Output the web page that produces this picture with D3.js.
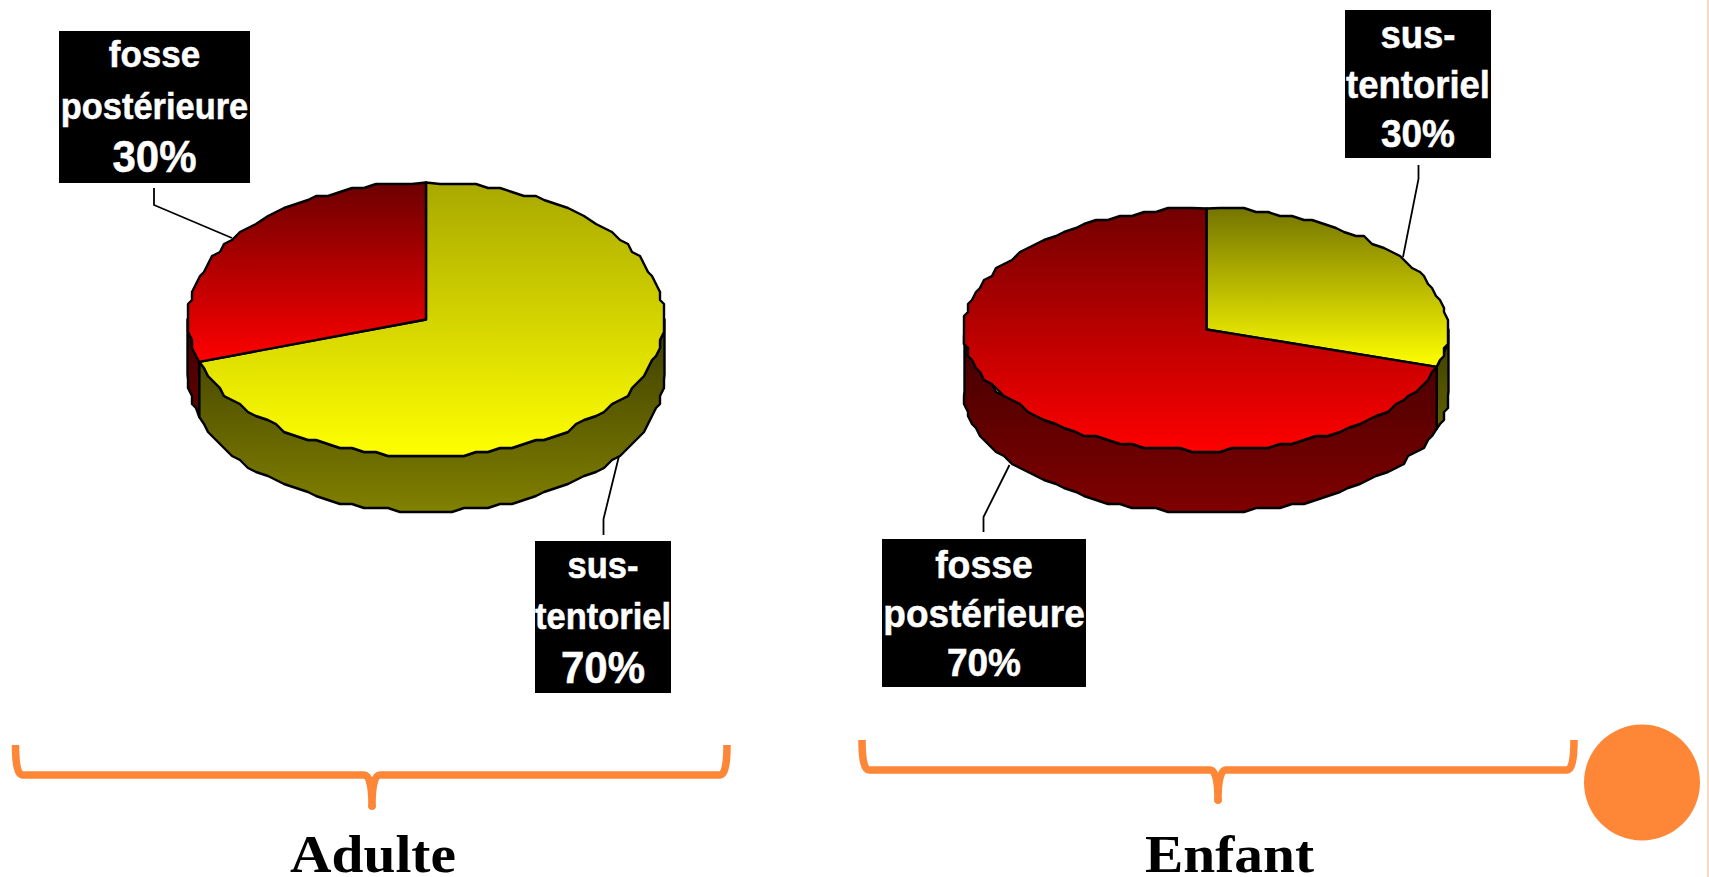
<!DOCTYPE html>
<html lang="fr">
<head>
<meta charset="utf-8">
<title>Localisation des tumeurs : adulte et enfant</title>
<script src="https://cdnjs.cloudflare.com/ajax/libs/d3/7.8.5/d3.min.js"></script>
<style>
  html, body { margin: 0; padding: 0; background: #fff; overflow: hidden; }
  svg { display: block; }
</style>
</head>
<body>
<svg id="chart" width="1709" height="877"></svg>
<script>
// Category names, one word fragment per label line
const categories = ["sus-tentoriel", "fosse postérieure"];
const categoryLines = [["sus-", "tentoriel"], ["fosse", "postérieure"]];

// Share of each category, in percent
const adultValues = [70, 30];
const childValues = [30, 70];

// Group titles under the braces
const groupTitles = ["Adulte", "Enfant"];

// Drawing settings for each group, kept apart from the values
const layouts = [
  {
    values: adultValues, title: groupTitles[0],
    cx: 426, cy: 319.5, rx: 238.5, ry: 137, depth: 55,
    topStart: ["#a8a800", "#6c0000"],
    labels: [
      { box: [535, 541, 136, 152], base: [578, 629, 683], size: [34.5, 34.5, 42],
        leader: [[619, 456], [603.5, 519], [603.5, 535]] },
      { box: [59, 31, 191, 152], base: [67, 119, 172], size: [35, 34.4, 42],
        leader: [[154, 188], [154, 205], [232, 238]] }
    ],
    brace: { x0: 15.5, x1: 727, top: 745, mid: 775, tipX: 372, tip: 806 },
    titleBox: { x: 290, w: 166 }
  },
  {
    values: childValues, title: groupTitles[1],
    cx: 1206.5, cy: 329.5, rx: 242, ry: 121, depth: 62,
    topStart: ["#747400", "#720000"],
    labels: [
      { box: [1345, 10, 146, 148], base: [48, 98, 147], size: [36.5, 36.5, 37],
        leader: [[1418.5, 165], [1418.5, 179], [1403, 257]] },
      { box: [882, 539, 204, 148], base: [578, 627, 676], size: [37.4, 37, 37],
        leader: [[1009.5, 465], [983.5, 517], [983.5, 532]] }
    ],
    brace: { x0: 862, x1: 1574, top: 740, mid: 770, tipX: 1218, tip: 800 },
    titleBox: { x: 1145, w: 169 }
  }
];

const svg = d3.select("#chart");
const defs = svg.append("defs");
const line = d3.line();
const pie = d3.pie().sort(null).value(d => d);

const ORANGE = "#fe8637";
const EDGE_STEP = Math.PI / 60;   // angular length of one rim segment
const GRID = 4;                   // rim vertices snap to this pixel grid
const TEXT_STRETCH = 1.06;        // label lettering runs slightly tall

function addGradient(id, y1, y2, from, to) {
  const g = defs.append("linearGradient")
    .attr("id", id)
    .attr("gradientUnits", "userSpaceOnUse")
    .attr("x1", 0).attr("x2", 0).attr("y1", y1).attr("y2", y2);
  g.append("stop").attr("offset", 0).attr("stop-color", from);
  g.append("stop").attr("offset", 1).attr("stop-color", to);
  return `url(#${id})`;
}

layouts.forEach((chart, ci) => {
  const g = svg.append("g");

  // Unit circle to the flattened ellipse of the pie's top face
  const x = d3.scaleLinear().domain([-1, 1]).range([chart.cx - chart.rx, chart.cx + chart.rx]);
  const y = d3.scaleLinear().domain([-1, 1]).range([chart.cy - chart.ry, chart.cy + chart.ry]);
  const snap = v => Math.round(v / GRID) * GRID;

  const rim = (a0, a1, drop = 0) => {
    const n = Math.max(1, Math.ceil((a1 - a0) / EDGE_STEP));
    return d3.range(n + 1).map(i => {
      const a = a0 + (a1 - a0) * i / n;
      const px = x(Math.sin(a)), py = y(-Math.cos(a)) + drop;
      // slice ends stay exact so that neighbouring faces meet
      return (i === 0 || i === n) ? [px, py] : [snap(px), snap(py)];
    });
  };

  const arcs = pie(chart.values);
  const sideFrom = ["#3c3c00", "#400000"];
  const sideTo = ["#808000", "#800000"];
  const hueEnd = ["#ffff00", "#ff0000"];

  // Visible wall: only the front half of the rim, 90° to 270° clockwise from the top
  arcs.forEach((d, i) => {
    const a0 = Math.max(d.startAngle, Math.PI / 2);
    const a1 = Math.min(d.endAngle, 3 * Math.PI / 2);
    if (a1 <= a0) return;
    const fill = addGradient(`side-${ci}-${i}`, chart.cy, chart.cy + chart.ry + chart.depth, sideFrom[i], sideTo[i]);
    const outline = rim(a0, a1).concat(rim(a0, a1, chart.depth).reverse());
    g.append("path")
      .attr("d", line(outline) + "Z")
      .attr("fill", fill)
      .attr("stroke", "#000")
      .attr("stroke-width", 2.4)
      .attr("stroke-linejoin", "round");
  });

  // Top faces, each shaded over its own vertical extent
  arcs.forEach((d, i) => {
    const pts = [[x(0), y(0)]].concat(rim(d.startAngle, d.endAngle));
    const ys = pts.map(p => p[1]);
    const fill = addGradient(`top-${ci}-${i}`, d3.min(ys), d3.max(ys), chart.topStart[i], hueEnd[i]);
    g.append("path")
      .attr("d", line(pts) + "Z")
      .attr("fill", fill)
      .attr("stroke", "#000")
      .attr("stroke-width", 2.4)
      .attr("stroke-linejoin", "round");
  });

  // Leader lines and black value labels
  chart.labels.forEach((lab, i) => {
    g.append("path")
      .attr("d", line(lab.leader))
      .attr("fill", "none")
      .attr("stroke", "#000")
      .attr("stroke-width", 1.8);

    const [bx, by, bw, bh] = lab.box;
    g.append("rect")
      .attr("x", bx).attr("y", by).attr("width", bw).attr("height", bh)
      .attr("fill", "#000");

    const rows = categoryLines[i].concat(`${chart.values[i]}%`);
    g.selectAll(null).data(rows).join("text")
      .attr("transform", (t, k) => `translate(${bx + bw / 2},${lab.base[k]}) scale(1,${TEXT_STRETCH})`)
      .attr("text-anchor", "middle")
      .attr("font-family", "'Liberation Sans', Arial, sans-serif")
      .attr("font-weight", 700)
      .attr("font-size", (t, k) => lab.size[k])
      .attr("fill", "#fff")
      .attr("stroke", "#fff")
      .attr("stroke-width", 0.5)
      .text(t => t);
  });

  // Curly brace grouping the pie, opening upward
  const b = chart.brace;
  const bracePath = d3.path();
  bracePath.moveTo(b.x0, b.top);
  bracePath.quadraticCurveTo(b.x0, b.mid, b.x0 + 7, b.mid);
  bracePath.lineTo(b.tipX - 8, b.mid);
  bracePath.quadraticCurveTo(b.tipX, b.mid, b.tipX, b.tip);
  bracePath.quadraticCurveTo(b.tipX, b.mid, b.tipX + 8, b.mid);
  bracePath.lineTo(b.x1 - 7, b.mid);
  bracePath.quadraticCurveTo(b.x1, b.mid, b.x1, b.top);
  g.append("path")
    .attr("d", bracePath.toString())
    .attr("fill", "none")
    .attr("stroke", ORANGE)
    .attr("stroke-width", 7.5)
    .attr("stroke-linejoin", "round");
  g.append("circle")
    .attr("cx", b.tipX).attr("cy", b.tip).attr("r", 3.75)
    .attr("fill", ORANGE);

  // Group title
  g.append("text")
    .attr("x", chart.titleBox.x)
    .attr("y", 872)
    .attr("textLength", chart.titleBox.w)
    .attr("lengthAdjust", "spacingAndGlyphs")
    .attr("font-family", "'Liberation Serif', 'Times New Roman', serif")
    .attr("font-weight", 700)
    .attr("font-size", 52)
    .attr("fill", "#000")
    .text(chart.title);
});

// Slide decoration: orange disc and thin rule on the right edge
svg.append("ellipse")
  .attr("cx", 1642).attr("cy", 782.5).attr("rx", 58).attr("ry", 58)
  .attr("fill", ORANGE);
svg.append("rect")
  .attr("x", 1707).attr("y", 0).attr("width", 2).attr("height", 877)
  .attr("fill", "#f5d9c6");
</script>
</body>
</html>
